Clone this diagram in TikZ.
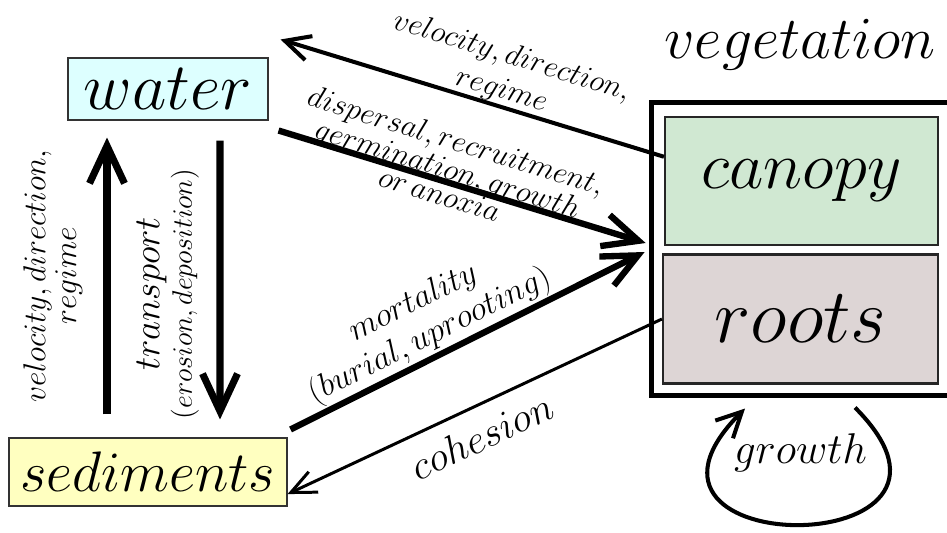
\RequirePackage{fix-cm}
\documentclass[tikz,border=0pt]{standalone}
\usepackage{amsmath}
\usetikzlibrary{arrows.meta}
\definecolor{waterblue}{RGB}{221,255,255}
\definecolor{sedyellow}{RGB}{255,255,192}
\definecolor{canopygreen}{RGB}{208,232,210}
\definecolor{rootsgrey}{RGB}{221,213,213}

\begin{document}
\begin{tikzpicture}[
  box/.style={draw=black!80, line width=0.6pt, inner sep=0pt},
  part/.style={draw=black!85, line width=1.2pt, inner sep=0pt},
  big/.style={font=\fontsize{38}{40}\selectfont},
  lbl/.style={font=\fontsize{17.5}{20}\selectfont, align=center},
  heavy/.style={line width=3.6pt, -{Straight Barb[length=7mm,width=6.5mm]}},
  light/.style={line width=2.3pt, -{Straight Barb[length=5mm,width=5mm]}},
  upright/.style={line width=4pt, -{Straight Barb[length=7.5mm,width=7mm]}},
]
\useasboundingbox (0,0) rectangle (18.94,10.64);
\clip (0,0) rectangle (18.94,10.64);
% --- compartments ---
\node[box, fill=waterblue, minimum width=4cm, minimum height=1.24cm, big] (water) at (3.36,8.86) {$water$};
\node[box, fill=sedyellow, minimum width=5.56cm, minimum height=1.36cm,
      font=\fontsize{32.5}{34}\selectfont] (sed) at (2.96,1.20) {$sediments$};
\node[minimum width=7.46cm, minimum height=5.84cm] (veg) at (16.77,5.66) {};
\draw[line width=2.6pt] (veg.north east) -- (veg.north west) -- (veg.south west) -- (veg.south east);
\node[part, fill=canopygreen, minimum width=5.46cm, minimum height=2.56cm, big] (canopy) at (16.03,7.02) {$canopy$};
\node[part, fill=rootsgrey, minimum width=5.5cm, minimum height=2.58cm,
      font=\fontsize{44}{46}\selectfont] (roots) at (16.01,4.26) {$roots$};
\node[anchor=base, font=\fontsize{34}{36}\selectfont] (veglbl) at (16.0,9.48) {$vegetation$};
% --- water <-> sediments ---
\draw[upright] ([shift={(-0.82,0.46)}]sed.north) -- ([shift={(-1.22,-0.34)}]water.south)
  node[midway, rotate=90, anchor=south, inner sep=12pt, font=\fontsize{18}{17.6}\selectfont, align=center]
  {$velocity, direction,$\\$regime$};
\draw[upright] ([shift={(1.04,-0.40)}]water.south) -- ([shift={(1.44,0.36)}]sed.north)
  node[pos=0.55, rotate=90, anchor=south, inner sep=10pt, font=\fontsize{21}{18.5}\selectfont, align=center]
  {$transport$\\{\fontsize{16}{16}\selectfont$(erosion,deposition)$}};
% --- vegetation links ---
\draw[light] (canopy.170) -- ([shift={(0.24,0.36)}]water.north east)
  node[lbl, pos=0.436, sloped, yshift=19pt] {$velocity, direction,$\\$regime$};
\draw[heavy] ([shift={(0.2,-0.2)}]water.south east) -- ([shift={(-0.12,0.12)}]veg.west)
  node[lbl, font=\fontsize{17.5}{15.5}\selectfont, pos=0.45, sloped, yshift=8.5pt]
  {$dispersal, recruitment,$\\$germination, growth$\\$or\,anoxia$};
\draw[heavy] ([shift={(0.06,0.16)}]sed.north east) -- ([shift={(-0.14,-0.06)}]veg.west)
  node[lbl, font=\fontsize{19}{21}\selectfont, pos=0.42, sloped, yshift=22pt]
  {$mortality$\\$(burial,uprooting)$};
\draw[line width=1.7pt, -{Straight Barb[length=5mm,width=4.5mm]}] (roots.west) -- (sed.-9)
  node[font=\fontsize{23}{25}\selectfont, pos=0.515, sloped, yshift=-17pt] {$cohesion$};
% --- growth loop ---
\draw[line width=2.3pt, -{Straight Barb[length=5mm,width=5mm]}]
  ([shift={(1.09,-0.46)}]roots.south) to[out=-45, in=-135, looseness=5.1] ([shift={(-1.11,-0.48)}]roots.south);
\node[font=\fontsize{24.5}{26}\selectfont] (grow) at ([yshift=-1.36cm]roots.south) {$growth$};
\end{tikzpicture}
\end{document}
